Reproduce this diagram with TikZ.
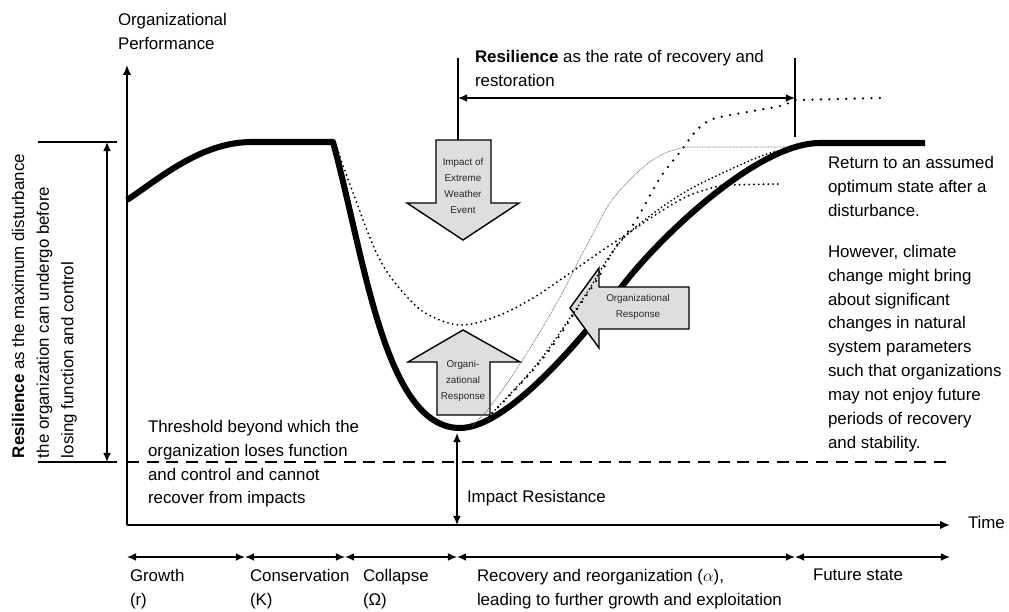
\documentclass[tikz,border=0pt]{standalone}
\usepackage{fontspec}
\setmainfont{Liberation Sans}
\usetikzlibrary{arrows.meta,positioning}

\begin{document}
\begin{tikzpicture}[x=0.025cm,y=-0.025cm,
  every node/.style={inner sep=0pt,outer sep=0pt,font=\fontsize{12}{17}\selectfont},
  txt/.style={align=left,anchor=north west},
  ax/.style={line width=1.3pt,-{Latex[length=7pt,width=6pt]}},
  dbl/.style={line width=0.9pt,{Latex[length=6.5pt,width=5.5pt]}-{Latex[length=6.5pt,width=5.5pt]}},
  tick/.style={line width=1pt},
  blk/.style={draw=black,line width=1pt,fill=black!13,line join=miter},
  small/.style={font=\fontsize{7}{11.4}\selectfont,align=center,text=black!85},
  perf/.style={line width=4.3pt,line join=round},
  dotb/.style={line width=1.5pt,line cap=round,dash pattern=on 0pt off 3.4pt},
  dotc/.style={line width=1.4pt,line cap=round,dash pattern=on 0pt off 2.8pt},
  dotd/.style={line width=1.8pt,line cap=round,dash pattern=on 0pt off 6pt},
  fine/.style={line width=0.5pt,black!60,dash pattern=on 0.6pt off 0.6pt}]

\useasboundingbox (0,0) rectangle (1009,612);

\coordinate (o) at (127,525);
\coordinate (ytip) at (127,65);
\coordinate (xtip) at (950,525);
\draw[ax] (o) -- (ytip);
\draw[ax] (o) -- (xtip);
\node[txt] (perfl) at (118,13) {Organizational\\Performance};
\node[right=0.45cm of xtip, anchor=west, yshift=2pt] (time) {Time};

\coordinate (th0) at (127,462);
\coordinate (th1) at (952,462);
\draw[line width=1pt,dash pattern=on 8.5pt off 5.5pt] (th0) -- (th1);

\coordinate (lt0) at (38,142);
\coordinate (lt1) at (117,142);
\coordinate (lb0) at (38,462);
\coordinate (lb1) at (117,462);
\draw[tick] (lt0) -- (lt1);
\draw[tick] (lb0) -- (lb1);
\draw[dbl] (107,142) -- (107,462);
\node[rotate=90,align=left,anchor=north west,font=\fontsize{12}{17.5}\selectfont] (rmax) at (12,458)
  {\textbf{Resilience} as the maximum disturbance\\the organization can undergo before\\losing function and control};

\draw[perf] (127,200) .. controls (160,178) and (200,143) .. (250,142) -- (333,142)
  .. controls (365,260) and (385,428) .. (460,428)
  .. controls (505,428) and (575,348) .. (623,285)
  .. controls (655,243) and (755,143) .. (820,143) -- (925,143);

\draw[blk] (436,140) -- (491,140) -- (491,203) -- (519,203) -- (463,240) -- (407,203) -- (436,203) -- cycle;
\node[small] (imp) at (463,186) {Impact of\\Extreme\\Weather\\Event};
\draw[blk] (437,415) -- (490,415) -- (490,362) -- (520,362) -- (463,330) -- (408,362) -- (437,362) -- cycle;
\node[small] (resp1) at (463,381) {Organi-\\zational\\Response};
\draw[blk] (689,287) -- (689,329) -- (599,329) -- (599,348) -- (570,308) -- (599,268) -- (599,287) -- cycle;
\node[small] (resp2) at (638,307) {Organizational\\Response};

\draw[dotb] plot[smooth,tension=0.6] coordinates {(337,148) (352,190) (380,260) (410,300) (433,317) (463,325)
  (500,315) (533,298) (560,280) (600,252) (627,234) (660,212) (690,195) (723,185)} -- (780,184);
\draw[dotc] plot[smooth,tension=0.6] coordinates {(478,426) (495,410) (537,364) (570,318) (590,288) (607,260)
  (630,232) (680,195) (727,171) (767,154) (797,147)};
\draw[dotd] plot[smooth,tension=0.6] coordinates {(480,425) (515,390) (548,352) (575,312) (598,278) (615,248)
  (635,222) (660,178) (680,152) (697,130) (713,119) (747,112) (780,106) (795,100)} -- (880,98);
\draw[fine] plot[smooth,tension=0.6] coordinates {(472,426) (493,403) (527,353) (560,297) (580,258) (595,230)
  (612,200) (640,170) (663,154) (685,147)} -- (787,147);

\coordinate (rr0) at (458,98);
\coordinate (rr1) at (795,98);
\draw[tick] (458,58) -- (458,140);
\draw[tick] (795,58) -- (795,137);
\draw[dbl] (rr0) -- (rr1);
\node[txt] (rrate) at (475,50) {\textbf{Resilience} as the rate of recovery and\\restoration};

\coordinate (ir0) at (457,433);
\coordinate (ir1) at (457,525);
\draw[dbl] (ir0) -- (ir1);
\node[anchor=west] (ires) at (467,498) {Impact Resistance};

\node[txt] (thr) at (148,420) {Threshold beyond which the\\organization loses function\\and control and cannot\\recover from impacts};

\node[txt] (ret) at (828,156) {Return to an assumed\\optimum state after a\\disturbance.};
\node[txt] (how) at (828,245) {However, climate\\change might bring\\about significant\\changes in natural\\system parameters\\such that organizations\\may not enjoy future\\periods of recovery\\and stability.};

\coordinate (p0) at (127,557);
\coordinate (p1) at (245,557);
\coordinate (p2) at (345,557);
\coordinate (p3) at (457,557);
\coordinate (p4) at (795,557);
\coordinate (p5) at (950,557);
\foreach \a/\b in {p0/p1,p1/p2,p2/p3,p3/p4,p4/p5}
  \draw[dbl] (\a) -- (\b);

\node[txt] (grow) at (130,569) {Growth\\(r)};
\node[txt] (cons) at (250,569) {Conservation\\(K)};
\node[txt] (coll) at (363,569) {Collapse\\(Ω)};
\node[txt] (reco) at (477,569) {Recovery and reorganization ($\alpha$),\\leading to further growth and exploitation};
\node[txt] (fut) at (813,569) {Future state};

\end{tikzpicture}
\end{document}
